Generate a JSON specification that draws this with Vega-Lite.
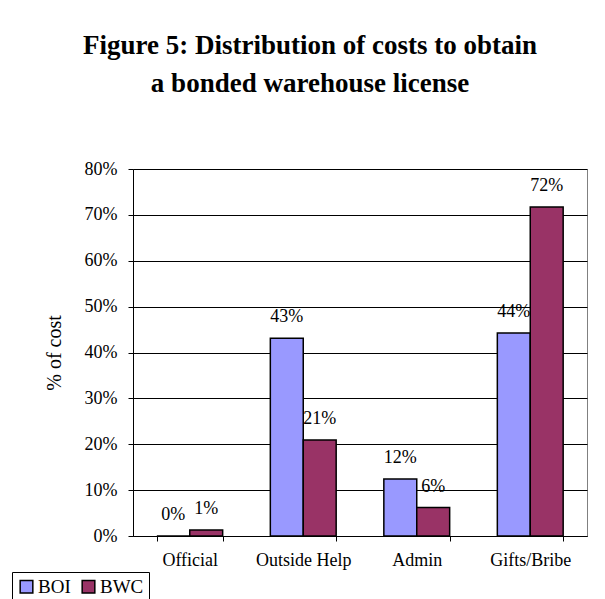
{
  "$schema": "https://vega.github.io/schema/vega-lite/v6.json",
  "width": 454,
  "height": 367,
  "autosize": {"type": "none"},
  "padding": {"left": 133, "top": 169, "right": 18, "bottom": 63},
  "background": "white",
  "title": {
    "text": ["Figure 5: Distribution of costs to obtain", "a bonded warehouse license"],
    "font": "Liberation Serif",
    "fontSize": 27,
    "fontWeight": "bold",
    "color": "black",
    "anchor": "middle",
    "dx": -50,
    "offset": 62,
    "lineHeight": 38
  },
  "data": {
    "values": [
      {"category": "Official", "series": "BOI", "value": 0.0},
      {"category": "Official", "series": "BWC", "value": 0.013},
      {"category": "Outside Help", "series": "BOI", "value": 0.431},
      {"category": "Outside Help", "series": "BWC", "value": 0.209},
      {"category": "Admin", "series": "BOI", "value": 0.124},
      {"category": "Admin", "series": "BWC", "value": 0.062},
      {"category": "Gifts/Bribe", "series": "BOI", "value": 0.4425},
      {"category": "Gifts/Bribe", "series": "BWC", "value": 0.717}
    ]
  },
  "encoding": {
    "x": {
      "field": "category",
      "type": "nominal",
      "sort": ["Official", "Outside Help", "Admin", "Gifts/Bribe"],
      "scale": {"paddingInner": 0.42, "paddingOuter": 0.21},
      "axis": {
        "title": null,
        "labelAngle": 0,
        "labelFont": "Liberation Serif",
        "labelFontSize": 18,
        "labelColor": "black",
        "labelPadding": 10,
        "tickBand": "extent",
        "tickSize": 5,
        "tickColor": "black",
        "domainColor": "black",
        "grid": false
      }
    },
    "xOffset": {"field": "series", "type": "nominal", "scale": {"paddingInner": 0, "paddingOuter": 0}},
    "y": {
      "field": "value",
      "type": "quantitative",
      "scale": {"domain": [0, 0.8], "nice": false},
      "axis": {
        "title": "% of cost",
        "titleFont": "Liberation Serif",
        "titleFontSize": 20,
        "titleFontWeight": "normal",
        "titleColor": "black",
        "titlePadding": 20,
        "format": ".0%",
        "values": [0, 0.1, 0.2, 0.3, 0.4, 0.5, 0.6, 0.7, 0.8],
        "labelFont": "Liberation Serif",
        "labelFontSize": 18,
        "labelColor": "black",
        "labelPadding": 11,
        "tickSize": 5,
        "tickColor": "black",
        "domainColor": "black",
        "grid": true,
        "gridColor": "black",
        "gridWidth": 1
      }
    }
  },
  "layer": [
    {
      "mark": {"type": "bar", "stroke": "black", "strokeWidth": 1.5},
      "encoding": {
        "color": {
          "field": "series",
          "type": "nominal",
          "scale": {"domain": ["BOI", "BWC"], "range": ["#9999FF", "#993366"]},
          "legend": {
            "title": null,
            "orient": "none",
            "legendX": -121,
            "legendY": 403,
            "direction": "horizontal",
            "strokeColor": "black",
            "fillColor": "white",
            "padding": 5,
            "symbolType": "square",
            "symbolSize": 160,
            "symbolStrokeColor": "black",
            "symbolStrokeWidth": 1.5,
            "symbolOpacity": 1,
            "labelFont": "Liberation Serif",
            "labelFontSize": 19,
            "labelColor": "black",
            "labelOffset": 2,
            "columnPadding": 8
          }
        }
      }
    },
    {
      "mark": {
        "type": "text",
        "baseline": "bottom",
        "dy": -12,
        "font": "Liberation Serif",
        "fontSize": 18,
        "color": "black"
      },
      "encoding": {
        "text": {"field": "value", "type": "quantitative", "format": ".0%"}
      }
    }
  ],
  "config": {
    "view": {"stroke": "#808080", "strokeWidth": 1}
  }
}
